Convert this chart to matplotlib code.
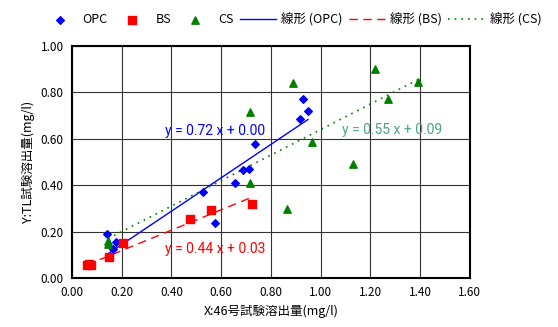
import numpy as np
import matplotlib
matplotlib.use('Agg')
import matplotlib.pyplot as plt

plt.rcParams['font.family'] = ['Noto Sans CJK JP', 'DejaVu Sans']

# OPC (diamonds)
opc_x = [0.14, 0.176, 0.165, 0.527, 0.576, 0.656, 0.687, 0.71, 0.738, 0.917, 0.928, 0.949]
opc_y = [0.19, 0.156, 0.127, 0.371, 0.239, 0.409, 0.466, 0.471, 0.578, 0.687, 0.772, 0.719]
# BS (squares)
bs_x = [0.06, 0.075, 0.067, 0.149, 0.205, 0.475, 0.561, 0.723]
bs_y = [0.055, 0.055, 0.06, 0.09, 0.15, 0.255, 0.294, 0.318]
# CS (triangles)
cs_x = [0.145, 0.145, 0.715, 0.715, 0.863, 0.89, 0.966, 1.129, 1.22, 1.272, 1.393]
cs_y = [0.16, 0.145, 0.717, 0.409, 0.298, 0.839, 0.587, 0.491, 0.901, 0.772, 0.844]

# trendline coefficients as printed on the chart (slope, intercept)
opc_fit = (0.72, 0.00)
bs_fit = (0.44, 0.03)
cs_fit = (0.55, 0.09)

fig = plt.figure(figsize=(5.58, 3.27), dpi=100)
ax = fig.add_axes([0.129, 0.150, 0.713, 0.709])

ax.scatter(opc_x, opc_y, marker='D', s=15, color='#0000ff', label='OPC', zorder=3)
ax.scatter(bs_x, bs_y, marker='s', s=28, color='#ff0000', label='BS', zorder=3)
ax.scatter(cs_x, cs_y, marker='^', s=28, color='#008000', label='CS', zorder=3)

def trend(xs, fit):
    xx = np.array([min(xs), max(xs)])
    return xx, fit[0] * xx + fit[1]

xx, yy = trend(opc_x, opc_fit)
ax.plot(xx, yy, color='#0000ff', lw=1.0, label='線形 (OPC)', zorder=2)
xx, yy = trend(bs_x, bs_fit)
ax.plot(xx, yy, color='#ff0000', lw=1.0, ls=(0, (6, 4)), label='線形 (BS)', zorder=2)
xx, yy = trend(cs_x, cs_fit)
ax.plot(xx, yy, color='#008000', lw=1.2, ls=(0, (1, 3)), label='線形 (CS)', zorder=2)

eq_font = ['Roboto', 'DejaVu Sans']
ax.text(0.577, 0.635, 'y = %.2f x + %.2f' % opc_fit, color='#0000ff', fontsize=10,
        ha='center', va='center', family=eq_font)
ax.text(0.577, 0.125, 'y = %.2f x + %.2f' % bs_fit, color='#ff0000', fontsize=10,
        ha='center', va='center', family=eq_font)
ax.text(1.286, 0.638, 'y = %.2f x + %.2f' % cs_fit, color='#4aa77a', fontsize=10,
        ha='center', va='center', family=eq_font)

ax.set_xlim(0, 1.6)
ax.set_ylim(0, 1.0)
ax.set_xticks(np.arange(0, 1.61, 0.2))
ax.set_yticks(np.arange(0, 1.01, 0.2))
ax.set_xticklabels(['%.2f' % v for v in np.arange(0, 1.61, 0.2)])
ax.set_yticklabels(['%.2f' % v for v in np.arange(0, 1.01, 0.2)])
ax.tick_params(labelsize=8.5, length=0, pad=6)
ax.grid(True, color='#333333', lw=0.8)
ax.set_axisbelow(True)
for s in ax.spines.values():
    s.set_linewidth(1.5)
    s.set_color('black')

ax.set_xlabel('X:46号試験溶出量(mg/l)', fontsize=9)
ax.set_ylabel('Y:TL試験溶出量(mg/l)', fontsize=9)

fig.legend(loc='center', bbox_to_anchor=(0.522, 0.94), ncol=6, frameon=False,
           fontsize=9, handlelength=2.9, handletextpad=0.4, columnspacing=0.5,
           scatterpoints=1)

fig.savefig('out.png', dpi=100)
